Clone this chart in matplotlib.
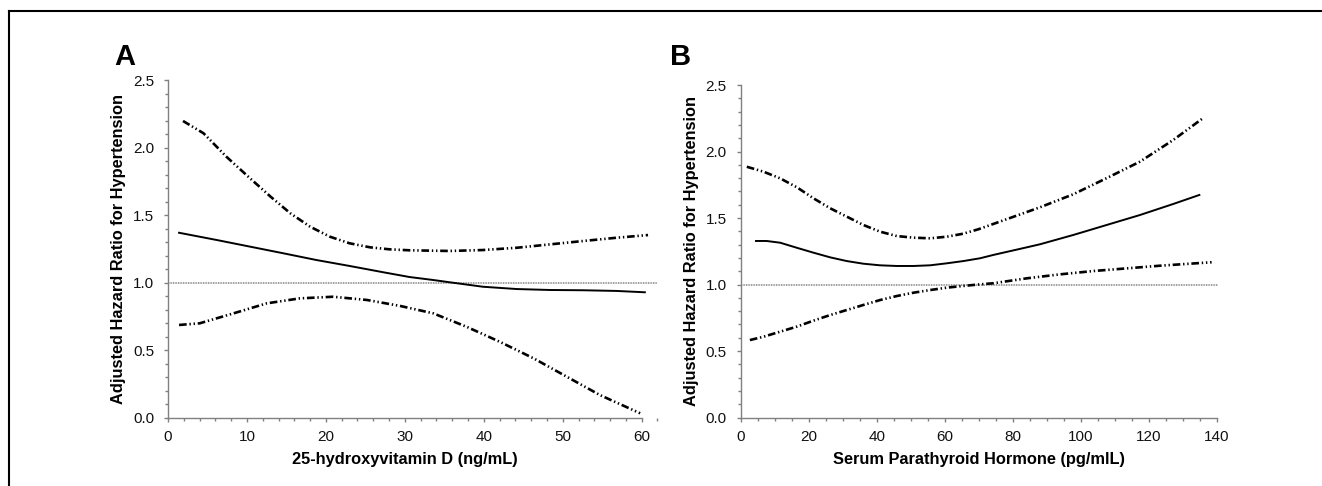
import matplotlib
matplotlib.use("Agg")
import matplotlib.pyplot as plt
from matplotlib.lines import Line2D
from matplotlib.ticker import MultipleLocator

plt.rcParams['lines.scale_dashes'] = False

# panel A: 25-hydroxyvitamin D
a_hr_x = [1.4, 6.2, 10.4, 14.6, 18.8, 23.0, 27.3, 30.6, 33.6, 35.7, 39.9, 44.2, 48.4, 52.6, 56.8, 60.4]
a_hr = [1.370, 1.316, 1.267, 1.218, 1.168, 1.124, 1.077, 1.042, 1.020, 1.003, 0.970, 0.953, 0.946, 0.944, 0.939, 0.929]
a_up_x = [1.9, 4.5, 7.4, 10.4, 13.0, 15.5, 18.0, 20.5, 23.0, 25.6, 28.1, 30.6, 35.7, 39.9, 44.2, 48.4, 52.6, 56.8, 60.8]
a_up = [2.198, 2.107, 1.933, 1.773, 1.637, 1.514, 1.415, 1.341, 1.292, 1.262, 1.247, 1.240, 1.235, 1.242, 1.259, 1.284, 1.309, 1.333, 1.353]
a_lo_x = [1.4, 4.0, 8.3, 12.5, 16.7, 20.9, 25.2, 29.4, 33.6, 37.8, 42.0, 46.3, 50.5, 54.7, 59.8]
a_lo = [0.687, 0.699, 0.773, 0.847, 0.884, 0.896, 0.872, 0.828, 0.773, 0.674, 0.563, 0.440, 0.304, 0.168, 0.033]

# panel B: serum PTH
b_hr_x = [4.5, 7.6, 11.6, 16.5, 21.4, 26.3, 31.2, 36.1, 41.0, 45.9, 50.8, 55.7, 60.6, 65.5, 70.4, 74.3, 84.1, 88.0, 97.8, 107.6, 117.4, 127.2, 134.9]
b_hr = [1.328, 1.328, 1.315, 1.277, 1.240, 1.205, 1.177, 1.157, 1.145, 1.140, 1.140, 1.145, 1.160, 1.177, 1.198, 1.223, 1.280, 1.303, 1.373, 1.448, 1.523, 1.606, 1.674]
b_up_x = [1.8, 6.7, 11.6, 16.5, 21.4, 26.3, 31.2, 36.1, 41.0, 45.9, 50.8, 55.7, 60.6, 65.5, 69.9, 74.3, 88.0, 97.8, 107.6, 117.4, 127.2, 135.9]
b_up = [1.886, 1.849, 1.799, 1.732, 1.649, 1.574, 1.511, 1.448, 1.398, 1.365, 1.353, 1.348, 1.360, 1.383, 1.416, 1.456, 1.581, 1.679, 1.800, 1.924, 2.087, 2.250]
b_lo_x = [2.7, 6.7, 11.6, 16.5, 21.4, 26.3, 31.2, 36.1, 41.0, 45.9, 50.8, 55.7, 60.6, 65.5, 70.4, 74.3, 84.1, 93.9, 103.7, 113.5, 123.3, 138.5]
b_lo = [0.583, 0.608, 0.646, 0.684, 0.729, 0.771, 0.809, 0.847, 0.884, 0.914, 0.939, 0.959, 0.977, 0.990, 1.002, 1.010, 1.047, 1.077, 1.102, 1.122, 1.142, 1.168]

narrow = ['Liberation Sans Narrow', 'Liberation Sans', 'DejaVu Sans']
bold = ['Liberation Sans', 'DejaVu Sans']
ci_dash = (0, (5.5, 2, 1, 2, 1, 2))
grey = '#808080'
label_size = 11.8

fig = plt.figure(figsize=(13.22, 4.86), dpi=100)

axA = fig.add_axes([0.12708, 0.14053, 0.37027, 0.69444])
axB = fig.add_axes([0.56029, 0.14074, 0.36109, 0.68416])


def style(ax, xmax, xend, xmaj, xmin_):
    ax.set_xlim(0, xmax)
    ax.set_ylim(0, 2.5)
    for s in ['top', 'right']:
        ax.spines[s].set_visible(False)
    for s in ['left', 'bottom']:
        ax.spines[s].set_color(grey)
        ax.spines[s].set_linewidth(1.0)
    ax.spines['bottom'].set_bounds(0, xend)
    ax.set_xticks(range(0, xend + 1, xmaj))
    ax.xaxis.set_minor_locator(MultipleLocator(xmin_))
    ax.set_yticks([0, 0.5, 1.0, 1.5, 2.0, 2.5])
    ax.set_yticklabels(['0.0', '0.5', '1.0', '1.5', '2.0', '2.5'])
    ax.yaxis.set_minor_locator(MultipleLocator(0.1))
    ax.tick_params(which='major', length=3, color=grey, width=1)
    ax.tick_params(which='minor', length=2.2, color=grey, width=1)
    ax.tick_params(axis='x', which='major', pad=6)
    ax.tick_params(axis='y', which='major', pad=7)
    for lab in ax.get_xticklabels() + ax.get_yticklabels():
        lab.set_family(narrow)
        lab.set_fontsize(11)
        lab.set_color('#111111')
    ax.axhline(1.0, color='#8a8a8a', lw=1.4, linestyle=(0, (0.6, 0.6)), zorder=1)
    ax.set_ylabel('Adjusted Hazard Ratio for Hypertension', family=bold,
                  fontweight='bold', fontsize=label_size)


style(axA, 62, 60, 10, 2)
axA.plot(a_hr_x, a_hr, color='black', lw=1.4)
axA.plot(a_up_x, a_up, color='black', lw=1.9, linestyle=ci_dash)
axA.plot(a_lo_x, a_lo, color='black', lw=1.9, linestyle=ci_dash)
axA.set_xlabel('25-hydroxyvitamin D (ng/mL)', family=bold, fontweight='bold', fontsize=label_size)
axA.xaxis.set_label_coords(0.4839, -0.1016)
axA.xaxis.label.set_va('top')
axA.yaxis.set_label_coords(-0.0858, 0.5)

style(axB, 140.4, 140, 20, 5)
axB.plot(b_hr_x, b_hr, color='black', lw=1.4)
axB.plot(b_up_x, b_up, color='black', lw=1.9, linestyle=ci_dash)
axB.plot(b_lo_x, b_lo, color='black', lw=1.9, linestyle=ci_dash)
axB.set_xlabel('Serum Parathyroid Hormone (pg/mlL)', family=bold, fontweight='bold', fontsize=label_size)
axB.xaxis.set_label_coords(0.5, -0.1035)
axB.xaxis.label.set_va('top')
axB.yaxis.set_label_coords(-0.088, 0.5)

fig.text(125 / 1322, 1 - 57 / 486, 'A', family=bold, fontweight='bold', fontsize=21,
         ha='center', va='center')
fig.text(681 / 1322, 1 - 57 / 486, 'B', family=bold, fontweight='bold', fontsize=21,
         ha='center', va='center')

# frame (top and left edges only are visible)
fig.add_artist(Line2D([9 / 1322, 9 / 1322], [0, 1 - 11 / 486], transform=fig.transFigure,
                      color='black', lw=1.5))
fig.add_artist(Line2D([9 / 1322, 1], [1 - 11 / 486, 1 - 11 / 486], transform=fig.transFigure,
                      color='black', lw=1.5))

fig.savefig('out.png', dpi=100)
